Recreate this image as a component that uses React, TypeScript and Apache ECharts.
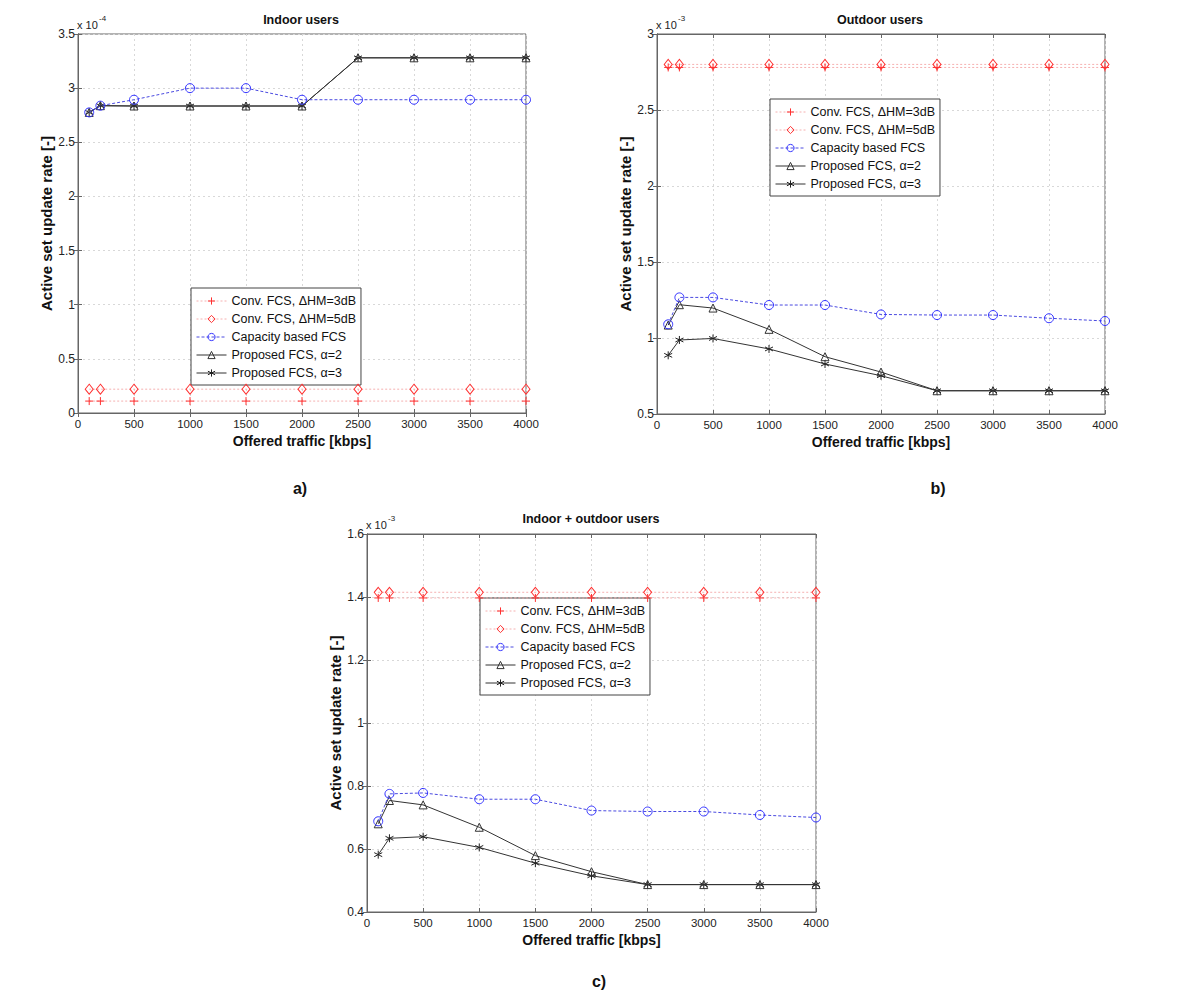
import React, { useEffect, useRef } from 'react';
import * as echarts from 'echarts';

// ---------- DATA ----------
const traffic = [100, 200, 500, 1000, 1500, 2000, 2500, 3000, 3500, 4000];
const seriesNames = [
  'Conv. FCS, ΔHM=3dB',
  'Conv. FCS, ΔHM=5dB',
  'Capacity based FCS',
  'Proposed FCS, α=2',
  'Proposed FCS, α=3',
];
const panelTitles = ['Indoor users', 'Outdoor users', 'Indoor + outdoor users'];
const panelExponents = ['-4', '-3', '-3'];
const panelCaptions = ['a)', 'b)', 'c)'];
const xAxisName = 'Offered traffic [kbps]';
const yAxisName = 'Active set update rate [-]';

// Panel a) Indoor users (x 10^-4)
const indoorConv3 = [0.11, 0.11, 0.11, 0.11, 0.11, 0.11, 0.11, 0.11, 0.11, 0.11];
const indoorConv5 = [0.22, 0.22, 0.22, 0.22, 0.22, 0.22, 0.22, 0.22, 0.22, 0.22];
const indoorCapacity = [2.776, 2.838, 2.893, 3.0, 3.0, 2.893, 2.893, 2.893, 2.893, 2.893];
const indoorAlpha2 = [2.776, 2.838, 2.835, 2.835, 2.835, 2.835, 3.28, 3.28, 3.28, 3.28];
const indoorAlpha3 = [2.776, 2.838, 2.835, 2.835, 2.835, 2.835, 3.28, 3.28, 3.28, 3.28];

// Panel b) Outdoor users (x 10^-3)
const outdoorConv3 = [2.78, 2.78, 2.78, 2.78, 2.78, 2.78, 2.78, 2.78, 2.78, 2.78];
const outdoorConv5 = [2.80, 2.80, 2.80, 2.80, 2.80, 2.80, 2.80, 2.80, 2.80, 2.80];
const outdoorCapacity = [1.09, 1.267, 1.267, 1.217, 1.217, 1.155, 1.151, 1.151, 1.13, 1.112];
const outdoorAlpha2 = [1.085, 1.219, 1.197, 1.057, 0.877, 0.776, 0.653, 0.653, 0.653, 0.653];
const outdoorAlpha3 = [0.886, 0.987, 0.997, 0.928, 0.829, 0.752, 0.653, 0.653, 0.653, 0.653];

// Panel c) Indoor + outdoor users (x 10^-3)
const allConv3 = [1.397, 1.397, 1.397, 1.397, 1.397, 1.397, 1.397, 1.397, 1.397, 1.397];
const allConv5 = [1.415, 1.415, 1.415, 1.415, 1.415, 1.415, 1.415, 1.415, 1.415, 1.415];
const allCapacity = [0.688, 0.775, 0.778, 0.758, 0.758, 0.722, 0.719, 0.719, 0.708, 0.7];
const allAlpha2 = [0.68, 0.754, 0.74, 0.669, 0.579, 0.528, 0.487, 0.487, 0.487, 0.487];
const allAlpha3 = [0.582, 0.634, 0.639, 0.605, 0.555, 0.515, 0.487, 0.487, 0.487, 0.487];

const panelData = [
  [indoorConv3, indoorConv5, indoorCapacity, indoorAlpha2, indoorAlpha3],
  [outdoorConv3, outdoorConv5, outdoorCapacity, outdoorAlpha2, outdoorAlpha3],
  [allConv3, allConv5, allCapacity, allAlpha2, allAlpha3],
];
const yRanges = [
  { min: 0, max: 3.5, interval: 0.5 },
  { min: 0.5, max: 3, interval: 0.5 },
  { min: 0.4, max: 1.6, interval: 0.2 },
];
const xRange = { min: 0, max: 4000, interval: 500 };

// ---------- LAYOUT / STYLE ----------
const FONT = '"Liberation Sans", Arial, Helvetica, sans-serif';

const layouts = [
  { grid: { left: 78, top: 34, width: 448, height: 379 }, legend: { left: 191, top: 288 }, title: { x: 301, y: 20 }, caption: { x: 300, y: 488 } },
  { grid: { left: 657, top: 34, width: 448, height: 380 }, legend: { left: 770, top: 99 }, title: { x: 880, y: 20 }, caption: { x: 938, y: 488 } },
  { grid: { left: 367, top: 534, width: 449, height: 378 }, legend: { left: 480, top: 598 }, title: { x: 591, y: 519 }, caption: { x: 599, y: 981 } },
];

const seriesStyles = [
  { symbol: 'path://M0,5L10,5M5,0L5,10', size: 8, mark: '#ff3030', line: '#f5b0b0', type: [2, 2] as any },
  { symbol: 'path://M5,0L10,6L5,12L0,6Z', size: [8, 10], mark: '#ff3030', line: '#f5b0b0', type: [2, 2] as any },
  { symbol: 'circle', size: [9, 9], mark: '#3030ff', line: '#4a4ae0', type: [3, 2] as any },
  { symbol: 'path://M5,0L10,9L0,9Z', size: [8, 8], mark: '#333333', line: '#333333', type: 'solid' as any },
  { symbol: 'path://M5,0L5,10M0.7,2.5L9.3,7.5M0.7,7.5L9.3,2.5', size: 8, mark: '#222222', line: '#333333', type: 'solid' as any },
];

function buildOption() {
  const grid: any[] = [];
  const xAxis: any[] = [];
  const yAxis: any[] = [];
  const series: any[] = [];
  const legend: any[] = [];
  const graphic: any[] = [];

  layouts.forEach((lay, p) => {
    grid.push({ ...lay.grid, show: true, backgroundColor: '#fff', borderColor: '#666', borderWidth: 1 });
    xAxis.push({
      type: 'value', gridIndex: p, ...xRange, position: 'bottom',
      name: xAxisName, nameLocation: 'middle', nameGap: 21,
      nameTextStyle: { fontFamily: FONT, fontSize: 14, fontWeight: 'bold', color: '#111' },
      axisLine: { show: true, lineStyle: { color: '#666' } },
      axisTick: { show: true, inside: true, length: 4, lineStyle: { color: '#666' } },
      axisLabel: { fontFamily: FONT, fontSize: 11.5, color: '#222', margin: 5, formatter: (v: number) => String(v) },
      splitLine: { show: true, lineStyle: { color: '#d8d8d8', type: [2, 3] } },
    });
    xAxis.push({
      type: 'value', gridIndex: p, ...xRange, position: 'top',
      axisLine: { show: true, lineStyle: { color: '#666' } },
      axisTick: { show: true, inside: true, length: 4, lineStyle: { color: '#666' } },
      axisLabel: { show: false }, splitLine: { show: false },
    });
    yAxis.push({
      type: 'value', gridIndex: p, ...yRanges[p], position: 'left',
      name: yAxisName, nameLocation: 'middle', nameGap: 22,
      nameTextStyle: { fontFamily: FONT, fontSize: 15, fontWeight: 'bold', color: '#111' },
      axisLine: { show: true, lineStyle: { color: '#666' } },
      axisTick: { show: true, inside: true, length: 4, lineStyle: { color: '#666' } },
      axisLabel: { fontFamily: FONT, fontSize: 12, color: '#222', margin: 3 },
      splitLine: { show: true, lineStyle: { color: '#d8d8d8', type: [2, 3] } },
    });
    yAxis.push({
      type: 'value', gridIndex: p, ...yRanges[p], position: 'right',
      axisLine: { show: true, lineStyle: { color: '#666' } },
      axisTick: { show: true, inside: true, length: 4, lineStyle: { color: '#666' } },
      axisLabel: { show: false }, splitLine: { show: false },
    });

    panelData[p].forEach((vals, s) => {
      const st = seriesStyles[s];
      series.push({
        type: 'line',
        name: seriesNames[s],
        xAxisIndex: p * 2,
        yAxisIndex: p * 2,
        data: traffic.map((t, i) => [t, vals[i]]),
        symbol: st.symbol,
        symbolSize: st.size,
        showSymbol: true,
        z: 10 - s,
        lineStyle: { color: st.line, width: 1, type: st.type },
        itemStyle: { color: 'rgba(255,255,255,0)', borderColor: st.mark, borderWidth: 1 },
        emphasis: { disabled: true },
      });
    });

    legend.push({
      show: true,
      orient: 'vertical',
      left: lay.legend.left,
      top: lay.legend.top,
      data: seriesNames,
      backgroundColor: '#fff',
      borderColor: '#444',
      borderWidth: 1,
      borderRadius: 0,
      padding: [6, 5, 5, 5],
      itemWidth: 30,
      itemHeight: 9,
      itemGap: 4,
      selectedMode: false,
      lineStyle: { width: 1 },
      itemStyle: { borderWidth: 1 },
      textStyle: { fontFamily: FONT, fontSize: 12.5, color: '#111', lineHeight: 14 },
    });

    graphic.push({
      type: 'text',
      style: { text: panelTitles[p], x: lay.title.x, y: lay.title.y, textAlign: 'center', textVerticalAlign: 'middle', fontFamily: FONT, fontSize: 12.5, fontWeight: 'bold', fill: '#111' },
    });
    graphic.push({
      type: 'text',
      style: { text: 'x 10', x: lay.grid.left - 1, y: lay.grid.top - 9, textAlign: 'left', textVerticalAlign: 'middle', fontFamily: FONT, fontSize: 11, fill: '#222' },
    });
    graphic.push({
      type: 'text',
      style: { text: panelExponents[p], x: lay.grid.left + 21, y: lay.grid.top - 16, textAlign: 'left', textVerticalAlign: 'middle', fontFamily: FONT, fontSize: 8, fill: '#222' },
    });
    graphic.push({
      type: 'text',
      style: { text: panelCaptions[p], x: lay.caption.x, y: lay.caption.y, textAlign: 'center', textVerticalAlign: 'middle', fontFamily: FONT, fontSize: 16, fontWeight: 'bold', fill: '#111' },
    });
  });

  return {
    animation: false,
    backgroundColor: '#fff',
    grid, xAxis, yAxis, series, legend, graphic,
  };
}

export default function App() {
  const ref = useRef<HTMLDivElement>(null);
  useEffect(() => {
    if (!ref.current) return;
    const chart = echarts.init(ref.current, null, { renderer: 'svg' });
    chart.setOption(buildOption() as any);
    return () => chart.dispose();
  }, []);
  return (
    <div
      ref={ref}
      style={{ position: 'absolute', left: 0, top: 0, width: 1200, height: 993, background: '#fff' }}
    />
  );
}
